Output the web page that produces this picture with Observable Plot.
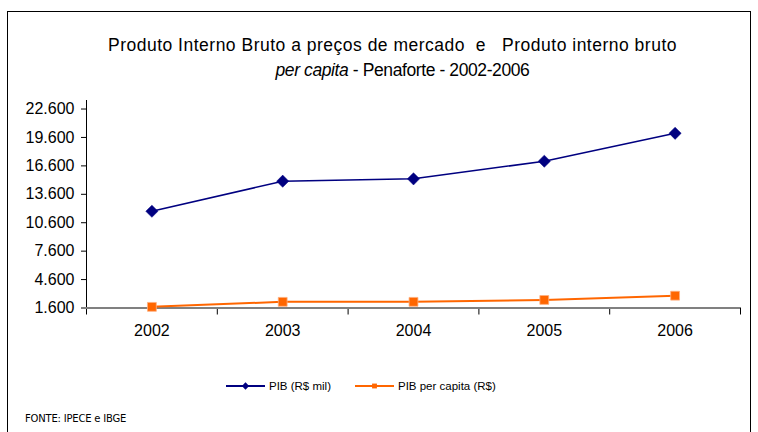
<!DOCTYPE html>
<html>
<head>
<meta charset="utf-8">
<script src="https://cdn.jsdelivr.net/npm/d3@7"></script>
<script src="https://cdn.jsdelivr.net/npm/@observablehq/plot@0.6"></script>
<style>
  html, body { margin: 0; padding: 0; background: #fff; }
  #wrap { position: relative; width: 758px; height: 432px; overflow: hidden; font-family: "Liberation Sans", Arial, sans-serif; color: #000; }
  #frame { position: absolute; left: 7px; top: 11px; width: 744px; height: 440px; border: 1.5px solid #000; box-sizing: border-box; }
  .tl { position: absolute; left: 0; width: 785px; text-align: center; font-size: 17.5px; line-height: 25px; white-space: pre; }
  #t1 { top: 33px; letter-spacing: 0.5px; }
  #t2 { top: 58px; letter-spacing: -0.4px; padding-left: 20px; box-sizing: border-box; width: 785px; }
  #chart { position: absolute; left: 0; top: 90px; }
  #legend { position: absolute; top: 380px; left: 226px; font-size: 11.5px; display: flex; align-items: center; white-space: pre; }
  #legend .item { display: flex; align-items: center; }
  #footer { position: absolute; left: 25px; top: 413px; font-family: "DejaVu Sans", sans-serif; font-size: 10px; letter-spacing: -0.2px; }
</style>
</head>
<body>
<div id="wrap">
  <div id="frame"></div>
  <div class="tl" id="t1">Produto Interno Bruto a preços de mercado  e   Produto interno bruto</div>
  <div class="tl" id="t2"><i>per capita</i> - Penaforte - 2002-2006</div>
  <div id="chart"></div>
  <div id="legend"></div>
  <div id="footer">FONTE: IPECE e IBGE</div>
</div>
<script>
const years = [2002, 2003, 2004, 2005, 2006];
const pibMil = [11810, 14980, 15230, 17090, 20040];
const pibPerCapita = [1720, 2250, 2250, 2450, 2900];
const yTicks = [1600, 4600, 7600, 10600, 13600, 16600, 19600, 22600];
const xBounds = [2001.5, 2002.5, 2003.5, 2004.5, 2005.5, 2006.5];
const seriesNames = ["PIB (R$ mil)", "PIB per capita (R$)"];

const navy = "#000080";
const orange = "#FF6600";

const pibData = years.map((year, i) => ({year, value: pibMil[i]}));
const pcData = years.map((year, i) => ({year, value: pibPerCapita[i]}));

const fmt = d3.formatLocale({decimal: ",", thousands: ".", grouping: [3], currency: ["R$", ""]}).format(",");

const chart = Plot.plot({
  width: 758,
  height: 260,
  marginLeft: 86,
  marginRight: 18,
  marginTop: 10,
  marginBottom: 42.5,
  style: {fontFamily: "Liberation Sans, Arial, sans-serif", color: "#000", background: "transparent"},
  x: {domain: [2001.5, 2006.5]},
  y: {domain: [1600, 23500]},
  marks: [
    Plot.ruleX([2001.5], {y1: 1600, y2: 23500, stroke: "#000", strokeWidth: 1}),
    Plot.axisY(yTicks, {tickSize: 5, tickPadding: 7, tickFormat: fmt, fontSize: 16, stroke: "#000", label: null}),
    Plot.axisX(xBounds, {tickSize: 7, tickFormat: () => "", stroke: "#000", label: null}),
    Plot.axisX(years, {tickSize: 0, tickPadding: 17, tickFormat: d => String(d), fontSize: 16, label: null}),
    Plot.ruleY([1600], {x1: 2001.5, x2: 2006.5, stroke: "#808080", strokeWidth: 2.2}),
    Plot.line(pcData, {x: "year", y: "value", stroke: orange, strokeWidth: 2}),
    Plot.dot(pcData, {x: "year", y: "value", symbol: "square", r: 5, fill: orange, stroke: "#FFB080", strokeWidth: 0.8}),
    Plot.line(pibData, {x: "year", y: "value", stroke: navy, strokeWidth: 1.5}),
    Plot.dot(pibData, {x: "year", y: "value", symbol: "diamond2", r: 5.5, fill: navy, stroke: navy, strokeWidth: 0.5})
  ]
});
document.getElementById("chart").appendChild(chart);

// Legend
const legend = document.getElementById("legend");
function item(name, color, symbol, gap) {
  const div = document.createElement("div");
  div.className = "item";
  div.style.marginRight = gap + "px";
  const ns = "http://www.w3.org/2000/svg";
  const svg = document.createElementNS(ns, "svg");
  svg.setAttribute("width", 40); svg.setAttribute("height", 12);
  const ln = document.createElementNS(ns, "line");
  ln.setAttribute("x1", 0); ln.setAttribute("x2", 39); ln.setAttribute("y1", 6); ln.setAttribute("y2", 6);
  ln.setAttribute("stroke", color); ln.setAttribute("stroke-width", 2);
  svg.appendChild(ln);
  const p = document.createElementNS(ns, "path");
  p.setAttribute("transform", "translate(19.5,6)");
  p.setAttribute("d", d3.symbol(symbol === "diamond" ? d3.symbolDiamond2 : d3.symbolSquare2, symbol === "diamond" ? 34 : 30)());
  p.setAttribute("fill", color);
  svg.appendChild(p);
  div.appendChild(svg);
  const span = document.createElement("span");
  span.textContent = name;
  span.style.marginLeft = "3px";
  div.appendChild(span);
  legend.appendChild(div);
}
item(seriesNames[0], navy, "diamond", 24);
item(seriesNames[1], orange, "square", 0);
</script>
</body>
</html>
